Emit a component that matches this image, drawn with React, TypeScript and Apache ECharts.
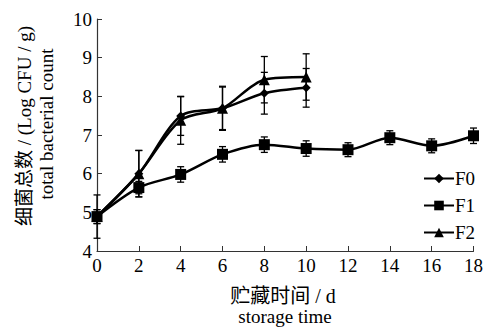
import React, { useEffect, useRef } from "react";
import * as echarts from "echarts";

const days = [0, 2, 4, 6, 8, 10, 12, 14, 16, 18];
const f0Values = [4.89, 6.0, 7.49, 7.69, 8.08, 8.22];
const f1Values = [4.89, 5.64, 5.98, 6.5, 6.75, 6.65, 6.62, 6.93, 6.72, 6.98];
const f2Values = [4.89, 6.0, 7.38, 7.69, 8.43, 8.5];
const f0Err = [0.56, 0.6, 0.5, 0.57, 0.54, 0.5];
const f1Err = [0.18, 0.16, 0.2, 0.2, 0.2, 0.2, 0.18, 0.18, 0.18, 0.2];
const f2Err = [0.18, 0.6, 0.62, 0.55, 0.6, 0.6];
const seriesNames = ["F0", "F1", "F2"];
const xTicks = { min: 0, max: 18, interval: 2 };
const yTicks = { min: 4, max: 10, interval: 1 };

const SERIF = "Liberation Serif";
const CJK = "'Liberation Serif', 'Noto Sans CJK SC'";

function pairs(vals: number[]) {
  return vals.map((v, i) => [days[i], v]);
}
function errData(vals: number[], errs: number[]) {
  return vals.map((v, i) => [days[i], v - errs[i], v + errs[i]]);
}

function errorSeries(vals: number[], errs: number[]) {
  return {
    type: "custom",
    silent: true,
    data: errData(vals, errs),
    encode: { x: 0, y: [1, 2] },
    z: 1,
    renderItem: (params: any, api: any) => {
      const x = api.value(0);
      const lo = api.coord([x, api.value(1)]);
      const hi = api.coord([x, api.value(2)]);
      const w = 3.5;
      const style = { stroke: "#000", lineWidth: 1.3 };
      return {
        type: "group",
        children: [
          { type: "line", shape: { x1: lo[0], y1: lo[1], x2: hi[0], y2: hi[1] }, style },
          { type: "line", shape: { x1: lo[0] - w, y1: lo[1], x2: lo[0] + w, y2: lo[1] }, style },
          { type: "line", shape: { x1: hi[0] - w, y1: hi[1], x2: hi[0] + w, y2: hi[1] }, style },
        ],
      };
    },
  };
}

export default function App() {
  const ref = useRef<HTMLDivElement>(null);
  useEffect(() => {
    if (!ref.current) return;
    const chart = echarts.init(ref.current, undefined, { renderer: "svg" });
    const lineCommon = {
      type: "line",
      smooth: 0.3,
      lineStyle: { color: "#000", width: 2.5 },
      itemStyle: { color: "#000" },
      z: 3,
    };
    chart.setOption({
      animation: false,
      backgroundColor: "#fff",
      grid: { left: 97, right: 12, top: 19, bottom: 77 },
      xAxis: {
        type: "value",
        min: xTicks.min,
        max: xTicks.max,
        interval: xTicks.interval,
        axisLine: { lineStyle: { color: "#333", width: 1.2 } },
        axisTick: { inside: true, length: 5, lineStyle: { color: "#333" } },
        splitLine: { show: false },
        axisLabel: { color: "#000", fontFamily: SERIF, fontSize: 19, margin: 5 },
      },
      yAxis: {
        type: "value",
        min: yTicks.min,
        max: yTicks.max,
        interval: yTicks.interval,
        axisLine: { show: true, lineStyle: { color: "#333", width: 1.2 } },
        axisTick: { show: true, inside: true, length: 5, lineStyle: { color: "#333" } },
        splitLine: { show: false },
        axisLabel: { color: "#000", fontFamily: SERIF, fontSize: 19, margin: 5 },
      },
      legend: {
        orient: "vertical",
        left: 423,
        top: 169,
        padding: 0,
        itemWidth: 30,
        itemHeight: 12,
        itemGap: 8,
        textStyle: { color: "#000", fontFamily: SERIF, fontSize: 19, padding: [0, 0, 0, -4] },
        data: seriesNames,
      },
      graphic: [
        {
          type: "text",
          x: 24,
          y: 126,
          rotation: Math.PI / 2,
          style: {
            text: "细菌总数 / (Log CFU / g)",
            font: `19px ${CJK}`,
            fill: "#000",
            align: "center",
            verticalAlign: "middle",
          },
        },
        {
          type: "text",
          x: 46,
          y: 124,
          rotation: Math.PI / 2,
          style: {
            text: "total bacterial count",
            font: `19px ${SERIF}`,
            fill: "#000",
            align: "center",
            verticalAlign: "middle",
          },
        },
        {
          type: "text",
          x: 283,
          y: 296,
          style: {
            text: "贮藏时间 / d",
            font: `20px ${CJK}`,
            fill: "#000",
            align: "center",
            verticalAlign: "middle",
          },
        },
        {
          type: "text",
          x: 285,
          y: 316,
          style: {
            text: "storage time",
            font: `19px ${SERIF}`,
            fill: "#000",
            align: "center",
            verticalAlign: "middle",
          },
        },
      ],
      series: [
        errorSeries(f0Values, f0Err),
        errorSeries(f1Values, f1Err),
        errorSeries(f2Values, f2Err),
        { ...lineCommon, name: "F0", data: pairs(f0Values), symbol: "diamond", symbolSize: 9 },
        { ...lineCommon, name: "F1", data: pairs(f1Values), symbol: "rect", symbolSize: 11 },
        { ...lineCommon, name: "F2", data: pairs(f2Values), symbol: "triangle", symbolSize: 11 },
      ],
    });
    return () => chart.dispose();
  }, []);
  return (
    <div
      ref={ref}
      style={{ position: "fixed", left: 0, top: 0, width: 486, height: 328 }}
    />
  );
}
